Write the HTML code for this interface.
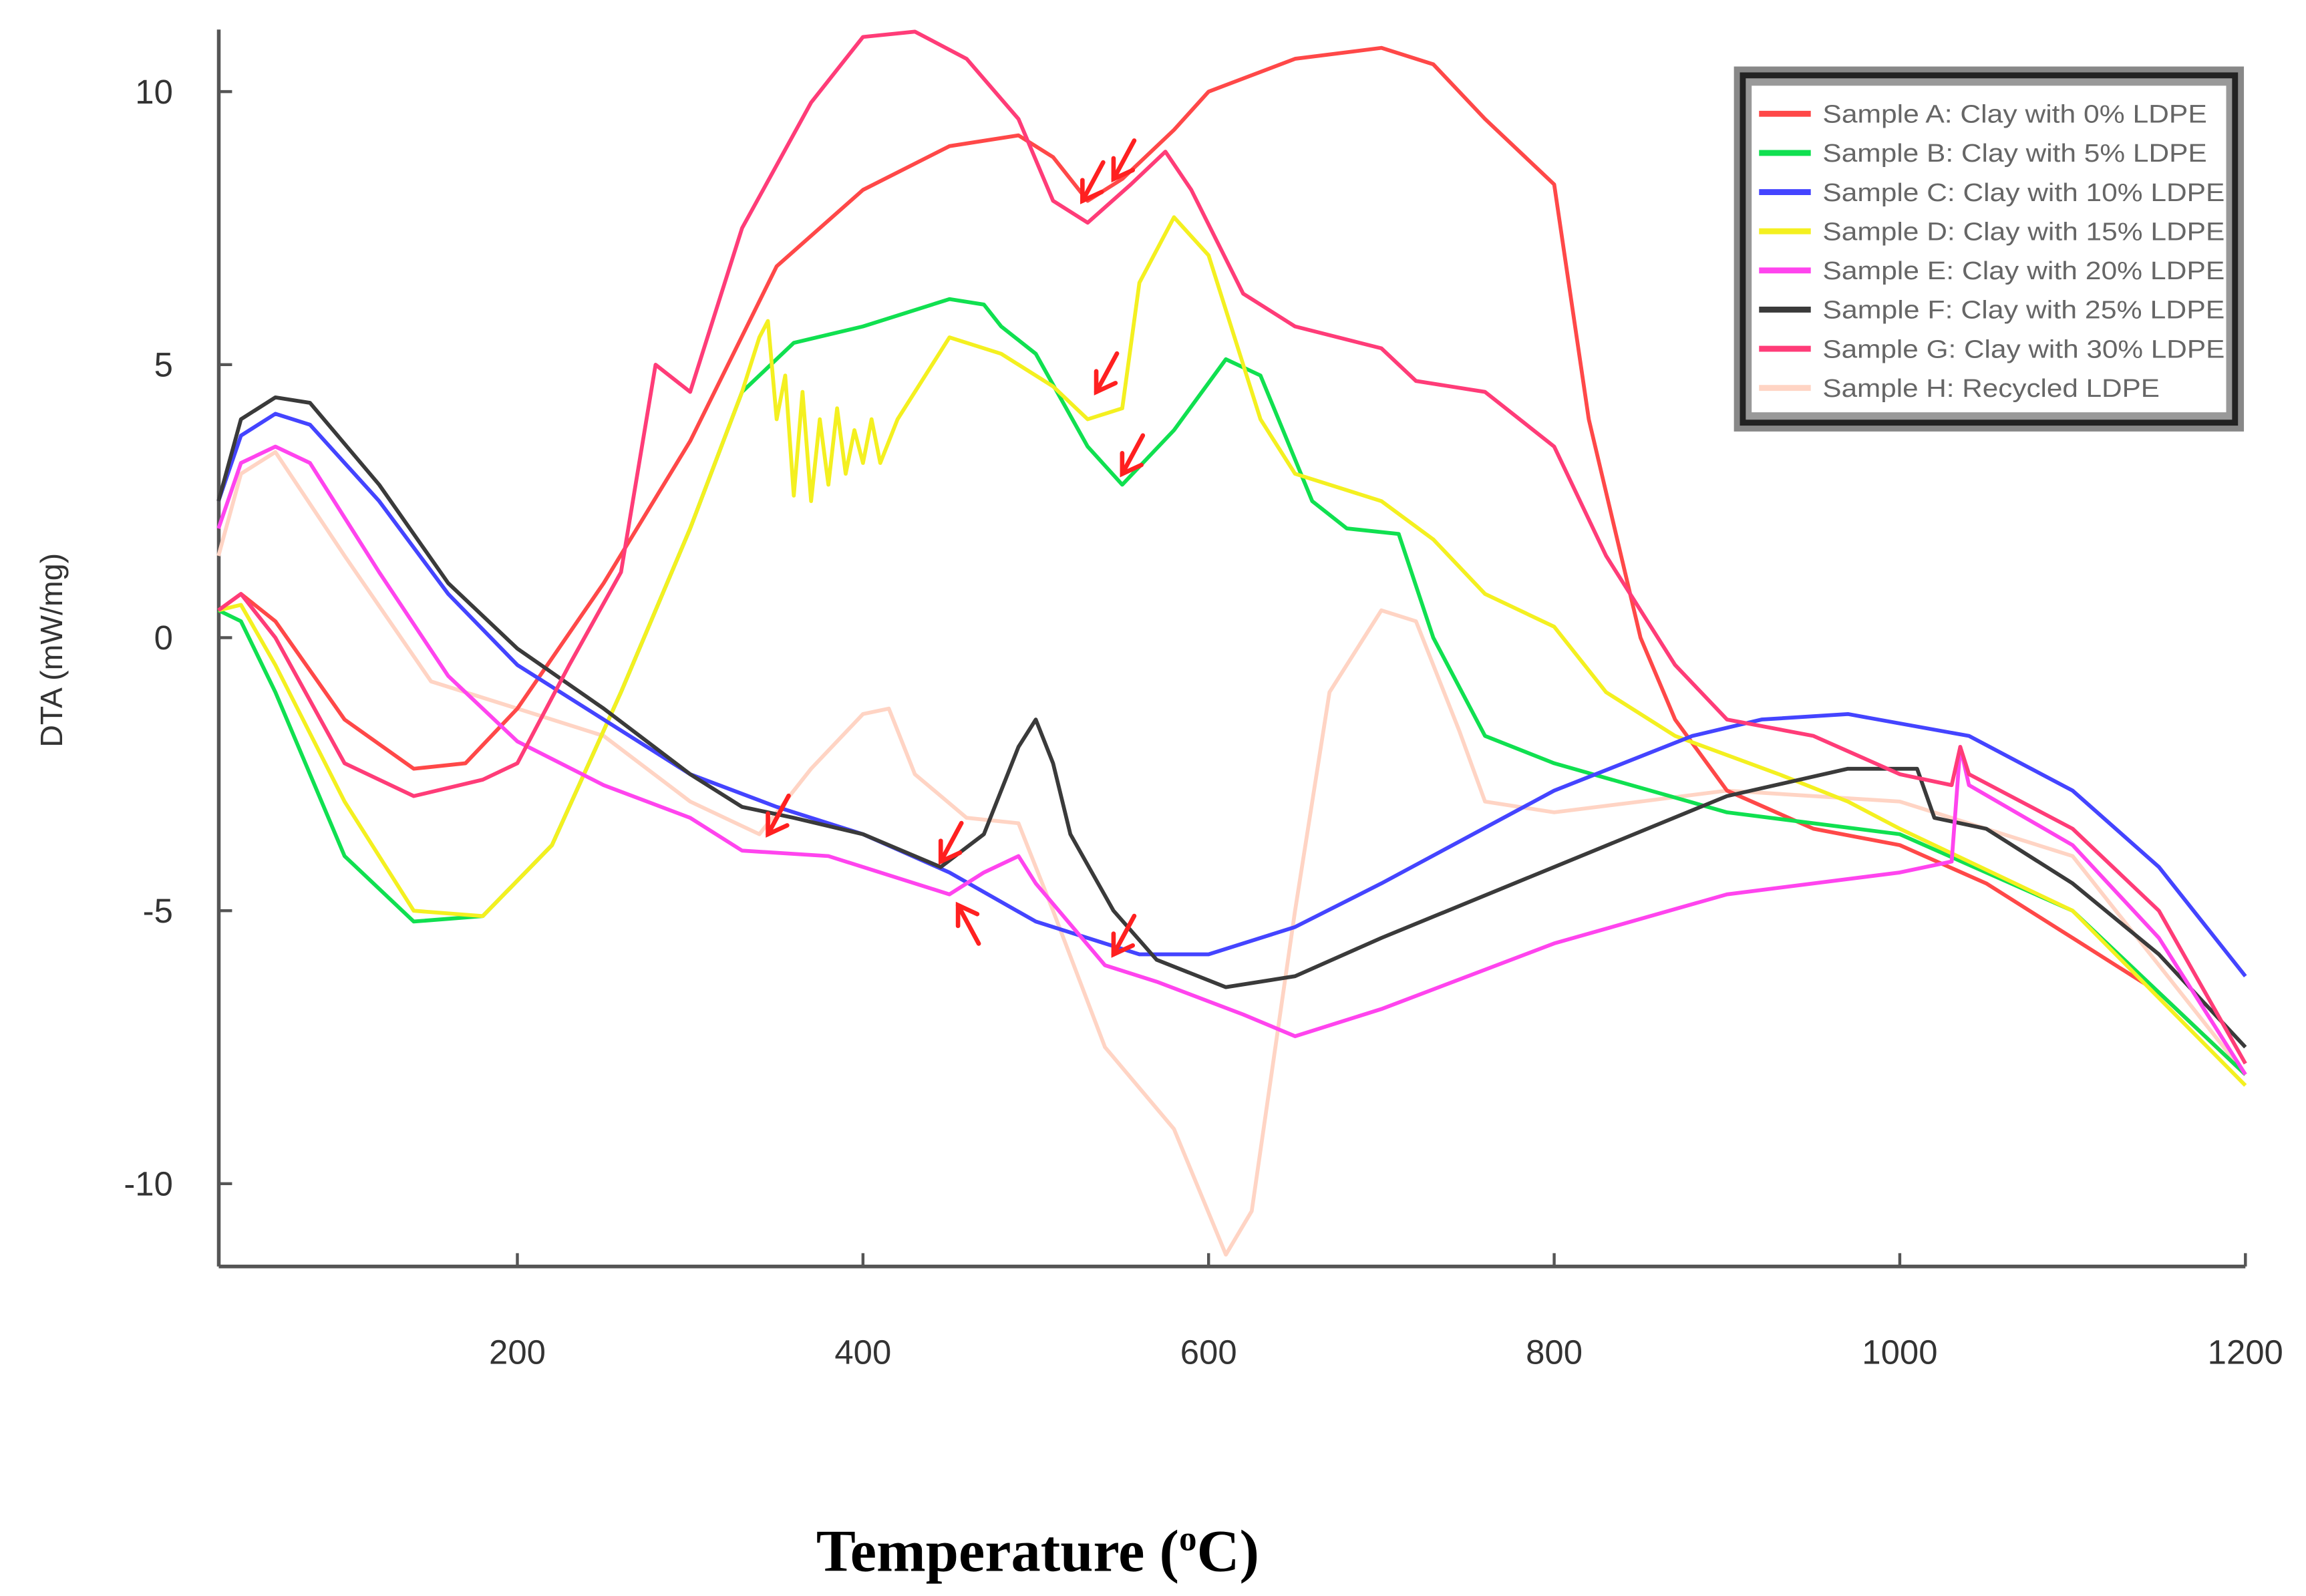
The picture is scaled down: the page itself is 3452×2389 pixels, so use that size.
<!DOCTYPE html>
<html><head><meta charset="utf-8"><style>
html,body{margin:0;padding:0;background:#fff;}
svg{display:block;}
</style></head><body>
<svg id="chart" width="3452" height="2389" viewBox="0 0 1560 1080" preserveAspectRatio="none" xmlns="http://www.w3.org/2000/svg">
<rect x="0" y="0" width="1560" height="1080" fill="#fff"/>
<g id="axes"></g>
<g id="series"></g>
<g id="arrows"></g>
<g id="legend"></g>
<text x="702" y="1063" text-anchor="middle" font-family="Liberation Serif, serif" font-weight="bold" font-size="40" fill="#000">Temperature (<tspan font-size="24" dy="-14">o</tspan><tspan dy="14">C)</tspan></text>
<text transform="translate(42,440) rotate(-90)" text-anchor="middle" font-family="Liberation Sans, sans-serif" font-size="21" fill="#333">DTA (mW/mg)</text>
</svg>
<script>
const xTicks=[200,400,600,800,1000,1200];
const yTicks=[10,5,0,-5,-10];
const seriesNames=["Sample  A: Clay with 0% LDPE","Sample  B: Clay with 5% LDPE","Sample  C: Clay with 10% LDPE","Sample  D: Clay with 15% LDPE","Sample  E: Clay with 20% LDPE","Sample  F: Clay with 25% LDPE","Sample  G: Clay with 30% LDPE","Sample  H: Recycled LDPE"];
const seriesColors=["#ff4848","#10e050","#4444ff","#f4f020","#ff44ee","#3a3a3a","#ff3c78","#ffd4c4"];
const sA=[[27,0.5],[40,0.8],[60,0.3],[100,-1.5],[140,-2.4],[170,-2.3],[200,-1.3],[250,1],[300,3.6],[350,6.8],[400,8.2],[450,9],[490,9.2],[510,8.8],[530,8],[550,8.4],[580,9.3],[600,10],[650,10.6],[700,10.8],[730,10.5],[760,9.5],[800,8.3],[820,4],[850,0],[870,-1.5],[900,-2.8],[950,-3.5],[1000,-3.8],[1050,-4.5],[1100,-5.5],[1150,-6.5],[1200,-8]];
const sB=[[27,0.5],[40,0.3],[60,-1],[100,-4],[140,-5.2],[180,-5.1],[220,-3.8],[260,-1],[300,2],[330,4.5],[360,5.4],[400,5.7],[450,6.2],[470,6.1],[480,5.7],[500,5.2],[530,3.5],[550,2.8],[580,3.8],[610,5.1],[630,4.8],[660,2.5],[680,2],[710,1.9],[730,0],[760,-1.8],[800,-2.3],[900,-3.2],[1000,-3.6],[1100,-5],[1200,-8]];
const sC=[[27,2.5],[40,3.7],[60,4.1],[80,3.9],[120,2.5],[160,0.8],[200,-0.5],[250,-1.5],[300,-2.5],[350,-3.1],[400,-3.6],[450,-4.3],[500,-5.2],[560,-5.8],[600,-5.8],[650,-5.3],[700,-4.5],[800,-2.8],[880,-1.8],[920,-1.5],[970,-1.4],[1040,-1.8],[1100,-2.8],[1150,-4.2],[1200,-6.2]];
const sD=[[27,0.5],[40,0.6],[60,-0.5],[100,-3],[140,-5],[180,-5.1],[220,-3.8],[260,-1],[300,2],[330,4.5],[340,5.5],[345,5.8],[350,4],[355,4.8],[360,2.6],[365,4.5],[370,2.5],[375,4],[380,2.8],[385,4.2],[390,3],[395,3.8],[400,3.2],[405,4],[410,3.2],[420,4],[450,5.5],[480,5.2],[510,4.6],[530,4],[550,4.2],[560,6.5],[580,7.7],[600,7],[630,4],[650,3],[700,2.5],[730,1.8],[760,0.8],[800,0.2],[830,-1],[870,-1.8],[930,-2.5],[970,-3],[1000,-3.5],[1100,-5],[1200,-8.2]];
const sE=[[27,2],[40,3.2],[60,3.5],[80,3.2],[120,1.2],[160,-0.7],[200,-1.9],[250,-2.7],[300,-3.3],[330,-3.9],[380,-4],[450,-4.7],[470,-4.3],[490,-4],[500,-4.5],[540,-6],[570,-6.3],[620,-6.9],[650,-7.3],[700,-6.8],[800,-5.6],[900,-4.7],[1000,-4.3],[1030,-4.1],[1035,-2],[1040,-2.7],[1100,-3.8],[1150,-5.5],[1200,-8]];
const sF=[[27,2.5],[40,4],[60,4.4],[80,4.3],[120,2.8],[160,1],[200,-0.2],[250,-1.3],[300,-2.5],[330,-3.1],[360,-3.3],[400,-3.6],[445,-4.2],[470,-3.6],[490,-2],[500,-1.5],[510,-2.3],[520,-3.6],[545,-5],[570,-5.9],[610,-6.4],[650,-6.2],[700,-5.5],[800,-4.2],[900,-2.9],[970,-2.4],[1010,-2.4],[1020,-3.3],[1050,-3.5],[1100,-4.5],[1150,-5.8],[1200,-7.5]];
const sG=[[27,0.5],[40,0.8],[60,0],[100,-2.3],[140,-2.9],[180,-2.6],[200,-2.3],[230,-0.5],[260,1.2],[280,5],[300,4.5],[330,7.5],[370,9.8],[400,11],[430,11.1],[460,10.6],[490,9.5],[510,8],[530,7.6],[555,8.3],[575,8.9],[590,8.2],[620,6.3],[650,5.7],[700,5.3],[720,4.7],[760,4.5],[800,3.5],[830,1.5],[870,-0.5],[900,-1.5],[950,-1.8],[1000,-2.5],[1030,-2.7],[1035,-2],[1040,-2.5],[1100,-3.5],[1150,-5],[1200,-7.8]];
const sH=[[27,1.5],[40,3],[60,3.4],[100,1.5],[150,-0.8],[200,-1.3],[250,-1.8],[300,-3],[340,-3.6],[370,-2.4],[400,-1.4],[415,-1.3],[430,-2.5],[460,-3.3],[490,-3.4],[510,-5],[540,-7.5],[580,-9],[610,-11.3],[625,-10.5],[650,-5],[670,-1],[700,0.5],[720,0.3],[745,-1.7],[760,-3],[800,-3.2],[850,-3],[900,-2.8],[1000,-3],[1100,-4],[1200,-8]];
const arrowTips=[[527,8],[545,8.4],[535,4.5],[550,3],[345,-3.6],[445,-4.1],[545,-5.8],[455,-4.9]];
const arrowDirs=[[1,-1],[1,-1],[1,-1],[1,-1],[1,-1],[1,-1],[1,-1],[1,1]];

const NS="http://www.w3.org/2000/svg";
const X0=148,XR=1519,YB=857,YT=20;
function xs(t){return 350+(t-200)*1.169;}
function ys(v){return 431.5-v*36.95;}
function mk(tag,attrs,parent){const e=document.createElementNS(NS,tag);for(const k in attrs)e.setAttribute(k,attrs[k]);parent.appendChild(e);return e;}
const axes=document.getElementById('axes');
let l=mk('line',{x1:X0,y1:YT,x2:X0,y2:YB,stroke:'#555','stroke-width':2.5},axes);


l=mk('line',{x1:X0,y1:YB,x2:XR,y2:YB,stroke:'#555','stroke-width':2.5},axes);


xTicks.forEach(t=>{
 mk('line',{x1:xs(t),y1:YB,x2:xs(t),y2:YB-9,stroke:'#555','stroke-width':2},axes);
 const tx=mk('text',{x:xs(t),y:YB+66,'text-anchor':'middle','font-family':'Liberation Sans, sans-serif','font-size':23,fill:'#333'},axes);
 tx.textContent=t;
 
 
});
yTicks.forEach(v=>{
 mk('line',{x1:X0,y1:ys(v),x2:X0+9,y2:ys(v),stroke:'#555','stroke-width':2},axes);
 const tx=mk('text',{x:117,y:ys(v)+8,'text-anchor':'end','font-family':'Liberation Sans, sans-serif','font-size':23,fill:'#333'},axes);
 tx.textContent=v;
 
 
});
const allSeries=[sH,sA,sB,sD,sC,sF,sE,sG];
const order=[7,0,1,3,2,5,4,6];
const keys=['h','a','b','d','c','f','e','g'];
const sg=document.getElementById('series');
allSeries.forEach((s,i)=>{
 const d=s.map((p,j)=>(j?'L':'M')+xs(p[0]).toFixed(1)+','+ys(p[1]).toFixed(1)).join(' ');
 const p=mk('path',{d:d,fill:'none',stroke:seriesColors[order[i]],'stroke-width':2.6,'stroke-linejoin':'round'},sg);
 
 
});
const ag=document.getElementById('arrows');
arrowTips.forEach((a,i)=>{
 const x=xs(a[0]),y=ys(a[1]),dx=arrowDirs[i][0],dy=arrowDirs[i][1];
 const g=mk('g',{stroke:'#ff2020','stroke-width':3,fill:'none','stroke-linecap':'round'},ag);
 
 
 mk('line',{x1:x,y1:y,x2:x+dx*14,y2:y+dy*26},g);
 mk('polyline',{points:(x+dx*0)+','+(y+dy*14)+' '+x+','+y+' '+(x+dx*13)+','+(y+dy*6)},g);
});
const lg=document.getElementById('legend');
const box=mk('g',{},lg);


mk('rect',{x:1173,y:45,width:345,height:247,fill:'#888'},box);
mk('rect',{x:1177,y:49,width:337,height:239,fill:'#222'},box);
mk('rect',{x:1181,y:53,width:329,height:231,fill:'#999'},box);
mk('rect',{x:1185,y:58,width:321,height:221,fill:'#fff'},box);
seriesNames.forEach((n,i)=>{
 const y=77+i*26.5;
 const e=mk('g',{},box);
 
 
 mk('line',{x1:1190,y1:y,x2:1225,y2:y,stroke:seriesColors[i],'stroke-width':4},e);
 const t=mk('text',{x:1233,y:y+6,'font-family':'Liberation Sans, sans-serif','font-size':17,fill:'#666',textLength:i==7?228:(i<2?260:272),lengthAdjust:'spacingAndGlyphs'},e);
 t.textContent=n;
});
</script>
</body></html>
